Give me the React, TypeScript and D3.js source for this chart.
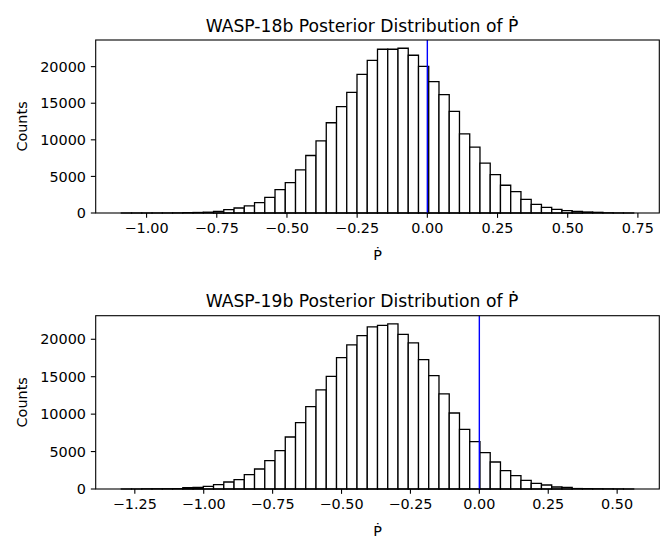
import React from "react";
import * as d3 from "d3";

// WASP-18b histogram: 50 bins from -1.090 to 0.735
const countsA = [
  1, 2, 3, 5, 10, 20, 45, 70, 110, 228,
  457, 685, 960, 1416, 2146, 3197, 4156, 5891, 7855, 9864,
  12330, 14523, 16486, 18953, 20870, 22378, 22378, 22515, 21556, 20049,
  17948, 16167, 13884, 10824, 8997, 6805, 5252, 3790, 2923, 1872,
  1187, 776, 502, 320, 228, 137, 91, 30, 10, 2,
];
const rangeA = [-1.09, 0.735];
const xTicksA = [-1.0, -0.75, -0.5, -0.25, 0.0, 0.25, 0.5, 0.75];

// WASP-19b histogram: 50 bins from -1.299 to 0.560
const countsB = [
  2, 5, 30, 35, 40, 45, 180, 200, 356, 579,
  935, 1247, 1915, 2672, 3786, 5122, 6948, 8863, 11001, 13228,
  15054, 17548, 19241, 20488, 21646, 21869, 22047, 20667, 19509, 17282,
  15144, 12694, 10155, 7973, 6325, 4855, 3608, 2450, 1782, 1158,
  757, 534, 267, 223, 60, 45, 35, 25, 15, 3,
];
const rangeB = [-1.299, 0.56];
const xTicksB = [-1.25, -1.0, -0.75, -0.5, -0.25, 0.0, 0.25, 0.5];

const yTicks = [0, 5000, 10000, 15000, 20000];
const titles = [
  "WASP-18b Posterior Distribution of \u1E56",
  "WASP-19b Posterior Distribution of \u1E56",
];
const xLabel = "\u1E56";
const yLabel = "Counts";
const refLine = 0;

const W = 662;
const H = 538;
const FONT = "DejaVu Sans";
const fmt = (v: number) => d3.format(".2f")(v).replace("-", "\u2212");

function Panel({ counts, range, xTicks, title, top, bottom }: any) {
  const left = 95.7;
  const right = 659.3;
  const [lo, hi] = range;
  const w = hi - lo;
  const x = d3.scaleLinear().domain([lo - 0.05 * w, hi + 0.05 * w]).range([left, right]);
  const maxC = d3.max(counts as number[]) as number;
  const y = d3.scaleLinear().domain([0, maxC * 1.05]).range([bottom, top]);
  const n = counts.length;
  const bw = w / n;
  const tickLen = 4.86;
  const fs = 14.4;
  return (
    <g>
      {counts.map((c: number, i: number) => {
        const x0 = x(lo + i * bw);
        const x1 = x(lo + (i + 1) * bw);
        const y0 = y(0);
        const y1 = y(c);
        return (
          <path
            key={i}
            d={`M${x0},${y0}V${y1}H${x1}V${y0}Z`}
            fill="#ffffff"
            stroke="#000"
            strokeWidth={1.3}
            strokeLinejoin="miter"
          />
        );
      })}
      <line x1={x(refLine)} x2={x(refLine)} y1={top} y2={bottom} stroke="#0000ff" strokeWidth={1.4} />
      <rect x={left} y={top} width={right - left} height={bottom - top} fill="none" stroke="#000" strokeWidth={1.1} />
      {xTicks.map((t: number) => (
        <g key={t}>
          <line x1={x(t)} x2={x(t)} y1={bottom} y2={bottom + tickLen} stroke="#000" strokeWidth={1.1} />
          <text x={x(t)} y={bottom + 19.5} textAnchor="middle" fontFamily={FONT} fontSize={fs} fill="#000">
            {fmt(t)}
          </text>
        </g>
      ))}
      {yTicks.map((t) => (
        <g key={t}>
          <line x1={left - tickLen} x2={left} y1={y(t)} y2={y(t)} stroke="#000" strokeWidth={1.1} />
          <text x={left - 9.7} y={y(t)} dy="0.36em" textAnchor="end" fontFamily={FONT} fontSize={fs} fill="#000">
            {t}
          </text>
        </g>
      ))}
      <text x={362} y={top - 8.5} textAnchor="middle" fontFamily={FONT} fontSize={17.2} fill="#000">
        {title}
      </text>
      <text x={(left + right) / 2} y={bottom + 47} textAnchor="middle" fontFamily={FONT} fontSize={fs} fill="#000">
        {xLabel}
      </text>
      <text
        transform={`translate(27,${(top + bottom) / 2}) rotate(-90)`}
        textAnchor="middle"
        fontFamily={FONT}
        fontSize={fs}
        fill="#000"
      >
        {yLabel}
      </text>
    </g>
  );
}

export default function App() {
  return (
    <svg
      width={W}
      height={H}
      viewBox={`0 0 ${W} ${H}`}
      style={{ position: "absolute", left: 0, top: 0, background: "#fff" }}
    >
      <rect x={0} y={0} width={W} height={H} fill="#fff" />
      <Panel counts={countsA} range={rangeA} xTicks={xTicksA} title={titles[0]} top={40} bottom={213} />
      <Panel counts={countsB} range={rangeB} xTicks={xTicksB} title={titles[1]} top={315.7} bottom={489} />
    </svg>
  );
}
